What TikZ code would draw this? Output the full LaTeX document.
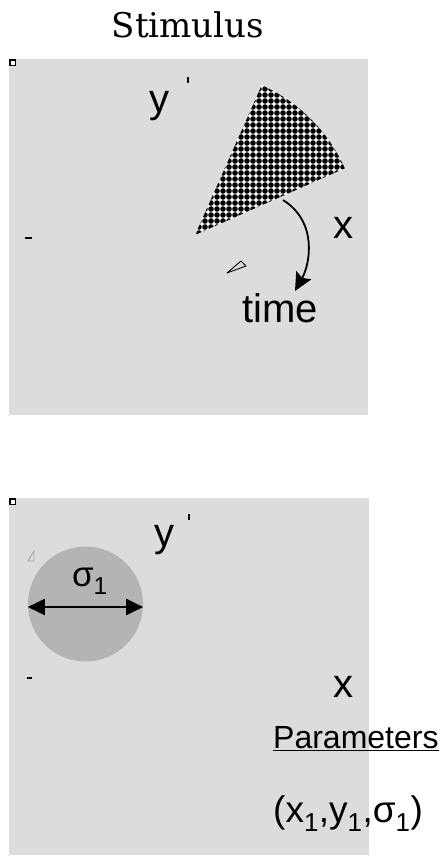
\documentclass[tikz,border=0pt]{standalone}
\usepackage{fontspec}
\setmainfont{Liberation Sans}
\newfontfamily\titlefont{DejaVu Serif}
\usetikzlibrary{arrows.meta,positioning}
\definecolor{panelgray}{RGB}{220,220,220}
\definecolor{blobgray} {RGB}{180,180,180}
\definecolor{faintgray}{RGB}{165,165,165}

\begin{document}
\begin{tikzpicture}[
    x=1pt, y=-1pt,
    panel/.style={fill=panelgray, draw=none},
    marker/.style={draw=black, fill=white, line width=1.2pt},
    tickmark/.style={line width=1.4pt},
    axis/.style={inner sep=0pt, anchor=base, font=\fontsize{40}{44}\selectfont},
    label/.style={inner sep=0pt, anchor=base west, font=\fontsize{32}{36}\selectfont},
    arrow/.style={-{Stealth[length=18pt, width=17pt, inset=3pt]}, line width=1.8pt},
    dblarrow/.style={{Triangle[length=17pt, width=16pt]}-{Triangle[length=17pt, width=16pt]}, line width=2pt}
]
    \useasboundingbox (0,0) rectangle (441,856);

    % title
    \node[inner sep=0pt, anchor=base, font=\titlefont\fontsize{34}{38}\selectfont] (title) at (188,38) {Stimulus};

    % --- stimulus panel ---
    \fill[panel] (9,59) rectangle (368,415);
    \draw[marker] (10,60) rectangle (15.5,65.5);
    \draw[tickmark] (188,77) -- (188,83);
    \draw[tickmark] (25,238) -- (32,238);

    \coordinate (apex) at (195,235);
    \begin{scope}
        \clip (apex) -- ++(-66:164) arc (-66:-24:164) -- cycle;
        \fill[white] (180,70) rectangle (350,245);
        \foreach \i in {0,...,28}
            \foreach \j in {0,...,29}
                \fill[black] (181+6*\i,71+6*\j) circle (2.8);
    \end{scope}

    \node[axis] (ytop) at (159,113) {y};
    \node[axis] (xtop) at (343,238) {x};
    \node[axis] (time) at (280,322) {time};

    \coordinate (sweep) at (283,200);
    \coordinate (sweepend) at (295,291);
    \draw[arrow] (sweep) .. controls (318,222) and (310,264) .. (sweepend);
    \draw[line width=0.9pt, line join=round] (227,273) -- (241,261) -- (246,266) -- cycle;

    % --- model panel ---
    \fill[panel] (9,498) rectangle (369,855);
    \draw[marker] (10,499) rectangle (15.5,504.5);
    \draw[tickmark] (189,514) -- (189,520);
    \draw[tickmark] (27,678) -- (32,678);
    \draw[faintgray, line width=0.9pt] (28,561) -- (34,551) -- (34,561) -- cycle;

    \node[circle, fill=blobgray, minimum size=115pt, inner sep=0pt] (blob) at (85.5,604) {};
    \draw[dblarrow] ([yshift=-3pt]blob.west) -- ([yshift=-3pt]blob.east);
    \node[axis, font=\fontsize{35}{40}\selectfont] (sigma) at (90,586) {σ\textsubscript{1}};

    \node[axis] (ybot) at (164,546) {y};
    \node[axis] (xbot) at (343,697) {x};

    \node[label] (params) at (273,748) {\underline{Parameters}};
    \node[label, font=\fontsize{37}{42}\selectfont] (tuple) at (273,822) {(x\textsubscript{1},y\textsubscript{1},σ\textsubscript{1})};
\end{tikzpicture}
\end{document}
